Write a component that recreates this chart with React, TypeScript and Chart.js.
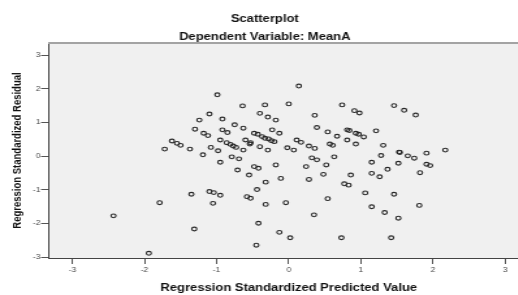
import React, { useEffect, useRef } from 'react';
import { Chart, registerables } from 'chart.js';

Chart.register(...registerables);

const chartTitle = 'Scatterplot';
const chartSubtitle = 'Dependent Variable: MeanA';
const xAxisTitle = 'Regression Standardized Predicted Value';
const yAxisTitle = 'Regression Standardized Residual';

const xTickValues = [-3, -2, -1, 0, 1, 2, 3];
const yTickValues = [-3, -2, -1, 0, 1, 2, 3];

const predictedValues = [
  -1.10, -1.24, -1.30, -1.18, -1.12, -1.62, -1.55, -1.50, -1.37, -1.72,
  -1.19, -1.08, -1.35, -1.10, -1.79, -2.43, -1.31, -1.94, 0.14, -0.99,
  -0.64, -0.33, 0.00, 0.74, 0.91, 0.98, -0.40, -0.29, -0.18, 0.36,
  -0.92, -0.75, -0.63, -0.23, -0.13, 0.39, 0.54, 0.67, 0.81, 0.84,
  0.93, 0.97, 1.04, 1.21, -0.92, -0.85, -0.95, -0.86, -0.81, -0.77,
  -0.73, -0.60, -0.53, -0.54, -0.48, -0.43, -0.37, -0.33, -0.28, -0.24,
  -0.20, 0.11, 0.17, 0.28, 0.36, 0.57, 0.61, 0.81, 0.93, -0.98,
  -0.63, -0.40, -0.29, -0.02, 0.07, -0.79, -0.69, 0.32, 0.39, 0.63,
  -0.95, 0.52, 0.24, -0.48, -0.42, -0.18, -0.71, -0.55, 0.48, 0.86,
  -0.11, 0.28, -0.32, 0.77, 0.83, -0.44, -1.04, -0.95, -0.58, -0.53,
  0.54, -1.05, -0.32, -0.04, 0.35, -0.42, -0.13, 0.02, 0.73, -0.45,
  1.46, 1.60, 1.76, 1.31, 2.17, 1.91, 1.53, 1.54, 1.65, 1.74,
  1.28, 1.15, 1.52, 1.37, 1.91, 1.96, 1.82, 1.15, 1.26, 1.06,
  1.46, 1.15, 1.33, 1.81, 1.52, 1.42,
];

const standardizedResiduals = [
  1.25, 1.07, 0.80, 0.68, 0.61, 0.45, 0.38, 0.32, 0.21, 0.21,
  0.04, 0.26, -1.13, -1.05, -1.38, -1.77, -2.16, -2.88, 2.08, 1.82,
  1.49, 1.52, 1.55, 1.52, 1.35, 1.28, 1.27, 1.16, 1.07, 1.21,
  1.10, 0.93, 0.83, 0.78, 0.68, 0.85, 0.72, 0.59, 0.78, 0.76,
  0.68, 0.65, 0.57, 0.75, 0.78, 0.70, 0.48, 0.40, 0.35, 0.30,
  0.26, 0.48, 0.40, 0.36, 0.68, 0.65, 0.58, 0.53, 0.51, 0.46,
  0.43, 0.48, 0.41, 0.30, 0.23, 0.36, 0.32, 0.48, 0.36, 0.16,
  0.18, 0.28, 0.18, 0.25, 0.18, -0.02, -0.08, -0.05, -0.11, -0.02,
  -0.18, -0.26, -0.31, -0.31, -0.36, -0.26, -0.41, -0.56, -0.54, -0.56,
  -0.66, -0.69, -0.77, -0.82, -0.86, -0.99, -1.08, -1.16, -1.20, -1.25,
  -1.26, -1.40, -1.43, -1.38, -1.74, -1.99, -2.26, -2.42, -2.42, -2.64,
  1.50, 1.36, 1.22, 0.32, 0.18, 0.09, 0.12, 0.11, 0.01, -0.06,
  0.02, -0.18, -0.21, -0.39, -0.24, -0.28, -0.49, -0.51, -0.61, -1.09,
  -1.13, -1.50, -1.67, -1.46, -1.84, -2.42,
];

const FONT = "'Liberation Sans', Arial, Helvetica, sans-serif";
const STRETCH = 1.3;
const CANVAS_W = 412;
const CANVAS_H = 295;

const plotFrame = {
  id: 'plotFrame',
  beforeDraw(chart: any) {
    const { ctx, chartArea: a } = chart;
    ctx.save();
    ctx.fillStyle = '#f0f0f0';
    ctx.fillRect(a.left, a.top, a.right - a.left, a.bottom - a.top);
    ctx.restore();
  },
  afterDraw(chart: any) {
    const { ctx, chartArea: a } = chart;
    ctx.save();
    ctx.strokeStyle = '#a3a3a3';
    ctx.lineWidth = 2;
    ctx.beginPath();
    ctx.moveTo(a.left, a.top);
    ctx.lineTo(a.right, a.top);
    ctx.lineTo(a.right, a.bottom);
    ctx.stroke();
    ctx.restore();
  },
};

export default function App() {
  const canvasRef = useRef<HTMLCanvasElement | null>(null);

  useEffect(() => {
    if (!canvasRef.current) return;
    const points = predictedValues.map((x, i) => ({ x, y: standardizedResiduals[i] }));
    const chart = new Chart(canvasRef.current, {
      type: 'scatter',
      data: {
        datasets: [
          {
            data: points,
            pointRadius: 1.9,
            pointBorderWidth: 1.1,
            pointBorderColor: '#262626',
            pointBackgroundColor: 'rgba(0,0,0,0)',
          },
        ],
      },
      plugins: [plotFrame],
      options: {
        responsive: false,
        animation: false,
        devicePixelRatio: 1,
        layout: { padding: { left: 0, right: 5, top: 0, bottom: 0 } },
        plugins: {
          legend: { display: false },
          tooltip: { enabled: false },
          title: {
            display: true,
            text: chartTitle,
            color: '#111',
            font: { family: FONT, size: 10, weight: 'bold' },
            padding: { top: 13, bottom: 6 },
          },
          subtitle: {
            display: true,
            text: chartSubtitle,
            color: '#111',
            font: { family: FONT, size: 10, weight: 'bold' },
            padding: { top: 0, bottom: 0 },
          },
        },
        scales: {
          x: {
            type: 'linear',
            min: -3.336,
            max: 3.336,
            afterBuildTicks: (scale: any) => {
              scale.ticks = xTickValues.map((v) => ({ value: v }));
            },
            afterFit: (scale: any) => {
              scale.height = 37;
            },
            ticks: {
              color: '#444',
              font: { family: FONT, size: 6.5 },
              padding: 2,
              maxRotation: 0,
              autoSkip: false,
            },
            grid: {
              display: true,
              drawOnChartArea: false,
              drawTicks: true,
              tickLength: 6,
              color: '#555',
            },
            border: { display: true, color: '#444', width: 1 },
            title: {
              display: true,
              text: xAxisTitle,
              color: '#111',
              font: { family: FONT, size: 10, weight: 'bold' },
              padding: { top: 0, bottom: 1 },
            },
          },
          y: {
            type: 'linear',
            min: -3.02,
            max: 3.356,
            afterBuildTicks: (scale: any) => {
              scale.ticks = yTickValues.map((v) => ({ value: v }));
            },
            afterFit: (scale: any) => {
              scale.width = 37;
            },
            ticks: {
              color: '#444',
              font: { family: FONT, size: 6.5 },
              padding: 0.5,
              autoSkip: false,
            },
            grid: {
              display: true,
              drawOnChartArea: false,
              drawTicks: true,
              tickLength: 5.5,
              color: '#555',
            },
            border: { display: true, color: '#444', width: 1 },
            title: {
              display: true,
              text: yAxisTitle,
              color: '#111',
              font: { family: FONT, size: 9.5, weight: 'bold' },
              padding: { top: 7.5, bottom: 0 },
            },
          },
        },
      },
    } as any);
    return () => chart.destroy();
  }, []);

  return (
    <div
      style={{
        position: 'fixed',
        left: 0,
        top: 0,
        width: 518,
        height: 295,
        overflow: 'hidden',
        background: '#fff',
      }}
    >
      <canvas
        ref={canvasRef}
        width={CANVAS_W}
        height={CANVAS_H}
        style={{
          display: 'block',
          width: `${Math.round(CANVAS_W * STRETCH)}px`,
          height: `${CANVAS_H}px`,
        }}
      />
    </div>
  );
}
